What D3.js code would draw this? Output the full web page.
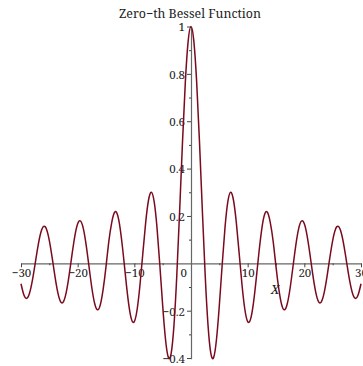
<!DOCTYPE html>
<html>
<head>
<meta charset="utf-8">
<script src="https://cdn.jsdelivr.net/npm/d3@7"></script>
<style>
  html, body { margin: 0; padding: 0; background: #fff; }
  svg { display: block; }
  text { font-family: "Noto Serif", "DejaVu Serif", serif; fill: #222; }
</style>
</head>
<body>
<svg id="chart" width="363" height="366"></svg>
<script>
// Sample positions along x (step 0.5) and J0(x) at each of them
const xSamples = [
  -30, -29.5, -29, -28.5, -28, -27.5, -27, -26.5, -26, -25.5, -25, -24.5, -24, -23.5, -23, -22.5,
  -22, -21.5, -21, -20.5, -20, -19.5, -19, -18.5, -18, -17.5, -17, -16.5, -16, -15.5, -15, -14.5,
  -14, -13.5, -13, -12.5, -12, -11.5, -11, -10.5, -10, -9.5, -9, -8.5, -8, -7.5, -7, -6.5,
  -6, -5.5, -5, -4.5, -4, -3.5, -3, -2.5, -2, -1.5, -1, -0.5, 0,
  0.5, 1, 1.5, 2, 2.5, 3, 3.5, 4, 4.5, 5, 5.5, 6, 6.5, 7, 7.5, 8, 8.5, 9, 9.5, 10,
  10.5, 11, 11.5, 12, 12.5, 13, 13.5, 14, 14.5, 15, 15.5, 16, 16.5, 17, 17.5, 18, 18.5, 19, 19.5, 20,
  20.5, 21, 21.5, 22, 22.5, 23, 23.5, 24, 24.5, 25, 25.5, 26, 26.5, 27, 27.5, 28, 28.5, 29, 29.5, 30
];
const j0Values = [
  -0.08636, -0.13313, -0.14785, -0.12627, -0.07315, -0.00099, 0.07274, 0.12986, 0.15599, 0.14405,
  0.09627, 0.02370, -0.05623, -0.12391, -0.16241, -0.16152, -0.12065, -0.04894, 0.03658, 0.11508,
  0.16703, 0.17885, 0.14663, 0.07716, -0.01336, -0.10310, -0.16985, -0.19638, -0.17490, -0.10926,
  -0.01422, 0.09294, 0.17107, 0.21474, 0.20693, 0.14688, 0.04769, -0.06765, -0.17119, -0.23664,
  -0.24594, -0.19393, -0.09033, 0.04194, 0.17165, 0.26634, 0.30008, 0.26009, 0.15065, -0.00684,
  -0.17760, -0.32054, -0.39715, -0.38013, -0.26005, -0.04838, 0.22389, 0.51183, 0.76520, 0.93847,
  1.00000,
  0.93847, 0.76520, 0.51183, 0.22389, -0.04838, -0.26005, -0.38013, -0.39715, -0.32054, -0.17760,
  -0.00684, 0.15065, 0.26009, 0.30008, 0.26634, 0.17165, 0.04194, -0.09033, -0.19393, -0.24594,
  -0.23664, -0.17119, -0.06765, 0.04769, 0.14688, 0.20693, 0.21474, 0.17107, 0.09294, -0.01422,
  -0.10926, -0.17490, -0.19638, -0.16985, -0.10310, -0.01336, 0.07716, 0.14663, 0.17885, 0.16703,
  0.11508, 0.03658, -0.04894, -0.12065, -0.16152, -0.16241, -0.12391, -0.05623, 0.02370, 0.09627,
  0.14405, 0.15599, 0.12986, 0.07274, -0.00099, -0.07315, -0.12627, -0.14785, -0.13313, -0.08636
];

// Axis ranges and tick positions
const xDomain = [-30, 30];
const yDomain = [-0.40276, 1];
const xMajorTicks = [-30, -20, -10, 10, 20, 30];
const xMinorTicks = [-25, -15, -5, 5, 15, 25];
const yMajorTicks = [-0.4, -0.2, 0.2, 0.4, 0.6, 0.8, 1];
const yMinorTicks = [-0.3, -0.1, 0.1, 0.3, 0.5, 0.7, 0.9];

const titleText = "Zero\u2212th Bessel Function";
const xLabelText = "X";

const fontFamily = "Noto Serif";
const tickFontSize = 11.5;

const svg = d3.select("#chart");

const x = d3.scaleLinear().domain(xDomain).range([21, 361]);
const y = d3.scaleLinear().domain(yDomain).range([358.7, 26.5]);

const axisColor = "#666";
const tickColor = "#444";

// Horizontal axis through y = 0
const gx = svg.append("g").attr("transform", `translate(0,${y(0)})`);
gx.call(d3.axisBottom(x).tickValues(xMajorTicks).tickFormat(d3.format("d"))
  .tickSize(4).tickSizeOuter(0).tickPadding(2));
gx.select(".domain").attr("stroke", axisColor).attr("stroke-width", 1.2);
gx.selectAll(".tick line").attr("stroke", tickColor);
gx.selectAll(".tick text").attr("font-family", fontFamily).attr("font-size", tickFontSize).attr("fill", "#222");

const gxm = svg.append("g").attr("transform", `translate(0,${y(0)})`);
gxm.call(d3.axisBottom(x).tickValues(xMinorTicks).tickFormat("").tickSize(2).tickSizeOuter(0));
gxm.select(".domain").remove();
gxm.selectAll(".tick line").attr("stroke", tickColor);

// Vertical axis through x = 0
const gy = svg.append("g").attr("transform", `translate(${x(0)},0)`);
gy.call(d3.axisLeft(y).tickValues(yMajorTicks).tickFormat(d3.format("~g"))
  .tickSize(4).tickSizeOuter(0).tickPadding(2));
gy.select(".domain").attr("stroke", axisColor).attr("stroke-width", 1.2);
gy.selectAll(".tick line").attr("stroke", tickColor);
gy.selectAll(".tick text").attr("font-family", fontFamily).attr("font-size", tickFontSize)
  .attr("fill", "#222").attr("dy", "0.38em");

const gym = svg.append("g").attr("transform", `translate(${x(0)},0)`);
gym.call(d3.axisLeft(y).tickValues(yMinorTicks).tickFormat("").tickSize(2).tickSizeOuter(0));
gym.select(".domain").remove();
gym.selectAll(".tick line").attr("stroke", tickColor);

// Origin label
svg.append("text")
  .attr("x", x(0) - 4).attr("y", y(0) + 14)
  .attr("text-anchor", "end")
  .attr("font-size", tickFontSize)
  .text("0");

// The Bessel curve
const points = xSamples.map((v, i) => [v, j0Values[i]]);
const line = d3.line()
  .x(d => x(d[0]))
  .y(d => y(d[1]))
  .curve(d3.curveNatural);

svg.append("path")
  .datum(points)
  .attr("fill", "none")
  .attr("stroke", "#7a0a1e")
  .attr("stroke-width", 1.5)
  .attr("d", line);

// Title and axis label
svg.append("text")
  .attr("x", 190).attr("y", 18)
  .attr("text-anchor", "middle")
  .attr("font-size", 12.4)
  .text(titleText);

svg.append("text")
  .attr("x", 275).attr("y", 294)
  .attr("text-anchor", "middle")
  .attr("font-size", 12.4)
  .attr("font-style", "italic")
  .text(xLabelText);
</script>
</body>
</html>
